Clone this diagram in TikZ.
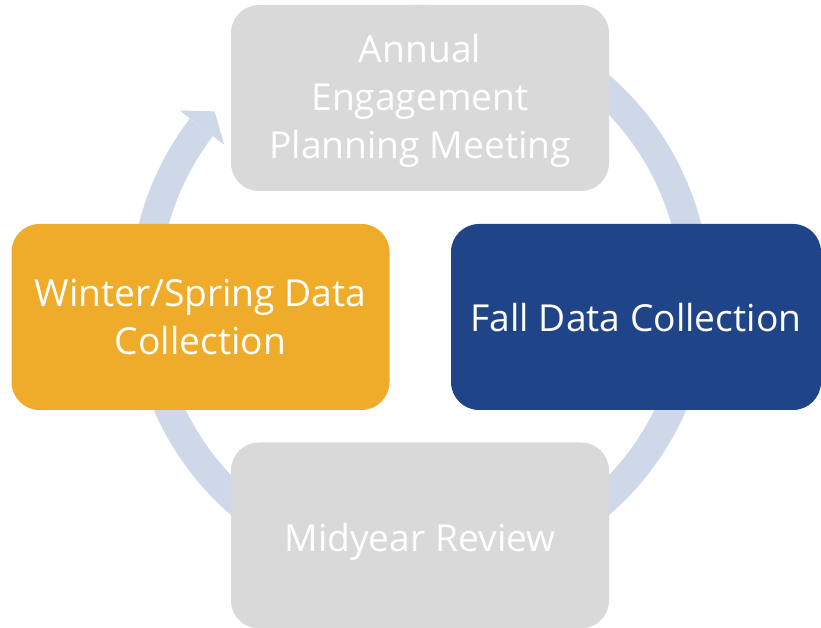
\documentclass[tikz,border=0pt]{standalone}
\usepackage{fontspec}
\usetikzlibrary{calc}
\setmainfont{Open Sans}
\definecolor{ringc}{HTML}{CFD8E8}
\definecolor{grayc}{HTML}{D9D9D9}
\definecolor{orangec}{HTML}{EFAB2A}
\definecolor{bluec}{HTML}{1F4588}
\begin{document}
\begin{tikzpicture}[x=1pt,y=1pt,
  stagebox/.style={rounded corners=28pt, minimum width=378pt, minimum height=186pt,
    inner sep=0pt},
  stagetext/.style={inner sep=0pt, text=white, align=center,
    font=\fontsize{37.2}{48}\selectfont},
  ring/.style={ringc, line width=29pt}]
\useasboundingbox (0,0) rectangle (821,628);
\coordinate (ctr) at (420,333);
% circular arrow ring
\draw[ring] (ctr) ++(120:275.5) arc[start angle=120, end angle=-217.5, radius=275.5];
\fill[ringc] ($(ctr)+(142.5:303)$) -- ($(ctr)+(138.2:275.5)$) -- ($(ctr)+(142.5:247)$) -- cycle;
% boxes
\node[stagebox, fill=grayc] (nTop) at (420,530) {};
\node[stagetext] (tTop) at ([yshift=-3pt]nTop.center) {Annual\\Engagement\\Planning Meeting};
\node[stagebox, fill=orangec] (nLeft) at (200.5,311) {};
\node[stagetext] (tLeft) at ([yshift=0pt]nLeft.center) {Winter/Spring Data\\Collection};
\node[stagebox, fill=bluec, minimum width=370pt] (nRight) at (636,311) {};
\node[stagetext] (tRight) at ([yshift=-1pt]nRight.center) {Fall Data Collection};
\node[stagebox, fill=grayc] (nBottom) at (420,92.5) {};
\node[stagetext] (tBottom) at ([yshift=-6pt]nBottom.center) {Midyear Review};
\end{tikzpicture}
\end{document}
